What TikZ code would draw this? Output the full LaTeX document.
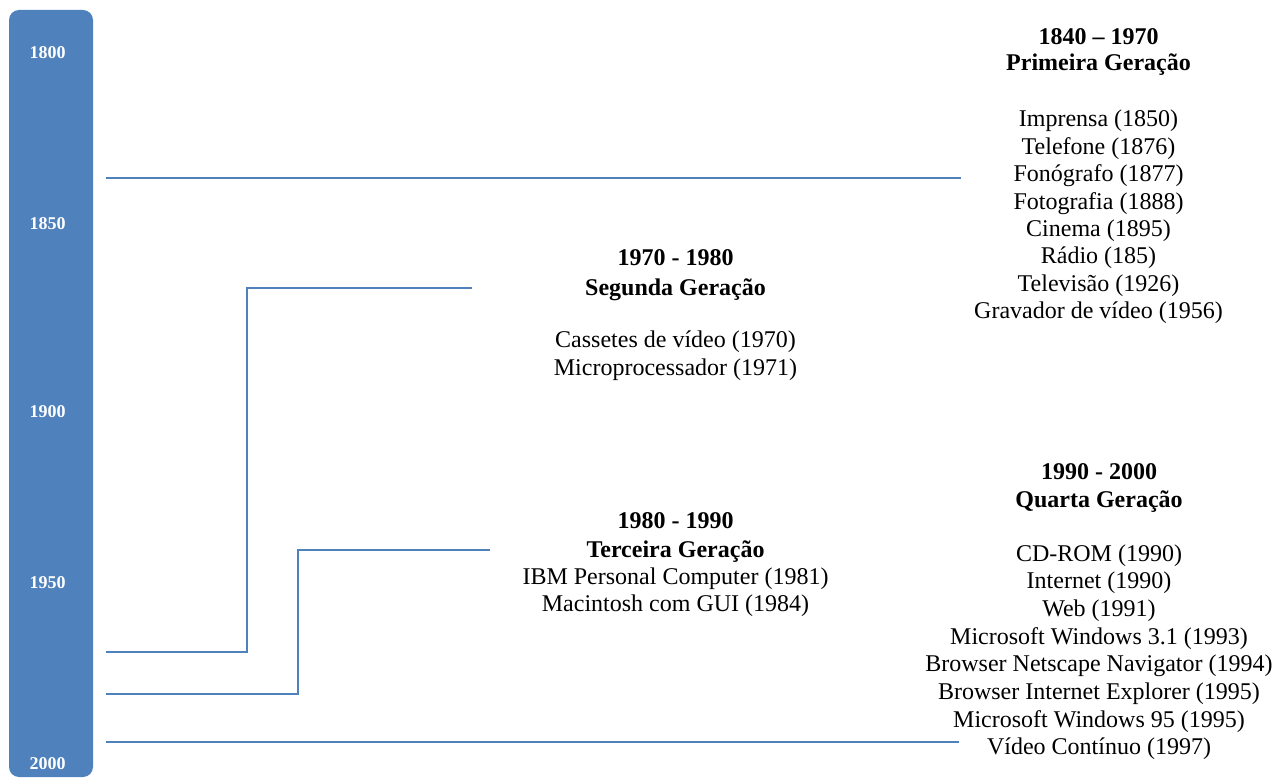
\documentclass[tikz,border=0pt]{standalone}
\usepackage{fontspec}
\setmainfont{Liberation Serif}
\definecolor{barblue}{HTML}{4F81BD}
\begin{document}
\begin{tikzpicture}[x=1pt,y=-1pt]
\tikzset{
  gen/.style={font=\fontsize{24}{27}\selectfont, anchor=base, inner sep=0pt},
  genhead/.style={anchor=base, inner sep=0pt, font=\fontsize{24}{27}\selectfont\bfseries},
  yearlbl/.style={font=\fontsize{18}{20}\selectfont\bfseries, text=white, anchor=base, inner sep=0pt},
  tline/.style={draw=barblue, line width=2pt}
}
\useasboundingbox (0,0) rectangle (1286,778);
% vertical bar
\fill[barblue, rounded corners=10pt] (9,10) rectangle (93,777);
\node[yearlbl] (y1800) at (47.5,59) {1800};
\node[yearlbl] (y1850) at (47.5,230) {1850};
\node[yearlbl] (y1900) at (47.5,417) {1900};
\node[yearlbl] (y1950) at (47.5,588) {1950};
\node[yearlbl] (y2000) at (47.5,769) {2000};
% connector coordinates
\coordinate (a1) at (106,178);
\coordinate (a2) at (961,178);
\coordinate (b1) at (106,652);
\coordinate (b2) at (247,652);
\coordinate (b3) at (247,288);
\coordinate (b4) at (472,288);
\coordinate (c1) at (106,694);
\coordinate (c2) at (298,694);
\coordinate (c3) at (298,550);
\coordinate (c4) at (490,550);
\coordinate (d1) at (106,742);
\coordinate (d2) at (959,742);
\draw[tline] (a1) -- (a2);
\draw[tline] (b1) -- (b2) -- (b3) -- (b4);
\draw[tline] (c1) -- (c2) -- (c3) -- (c4);
\draw[tline] (d1) -- (d2);
% Primeira Geracao
\node[genhead] (p1) at (1098.5,44.5) {1840 – 1970};
\node[genhead] (p2) at (1098.5,70.5) {Primeira Geração};
\foreach \t [count=\i] in {Imprensa (1850),Telefone (1876),Fonógrafo (1877),Fotografia (1888),Cinema (1895),Rádio (185),Televisão (1926),Gravador de vídeo (1956)}
  \node[gen] (pl\i) at (1098.5,{127+27.4*(\i-1)}) {\t};
% Segunda Geracao
\node[genhead] (s1) at (675.5,266) {1970 - 1980};
\node[genhead] (s2) at (675.5,295) {Segunda Geração};
\node[gen] (sl1) at (675.5,348) {Cassetes de vídeo (1970)};
\node[gen] (sl2) at (675.5,375) {Microprocessador (1971)};
% Terceira Geracao
\node[genhead] (t1) at (675.5,528) {1980 - 1990};
\node[genhead] (t2) at (675.5,557) {Terceira Geração};
\node[gen] (tl1) at (675.5,584) {IBM Personal Computer (1981)};
\node[gen] (tl2) at (675.5,611) {Macintosh com GUI (1984)};
% Quarta Geracao
\node[genhead] (q1) at (1099,479) {1990 - 2000};
\node[genhead] (q2) at (1099,507) {Quarta Geração};
\foreach \t [count=\i] in {CD-ROM (1990),Internet (1990),Web (1991),Microsoft Windows 3.1 (1993),Browser Netscape Navigator (1994),Browser Internet Explorer (1995),Microsoft Windows 95 (1995),Vídeo Contínuo (1997)}
  \node[gen] (ql\i) at (1099,{561+27.7*(\i-1)}) {\t};
\end{tikzpicture}
\end{document}
